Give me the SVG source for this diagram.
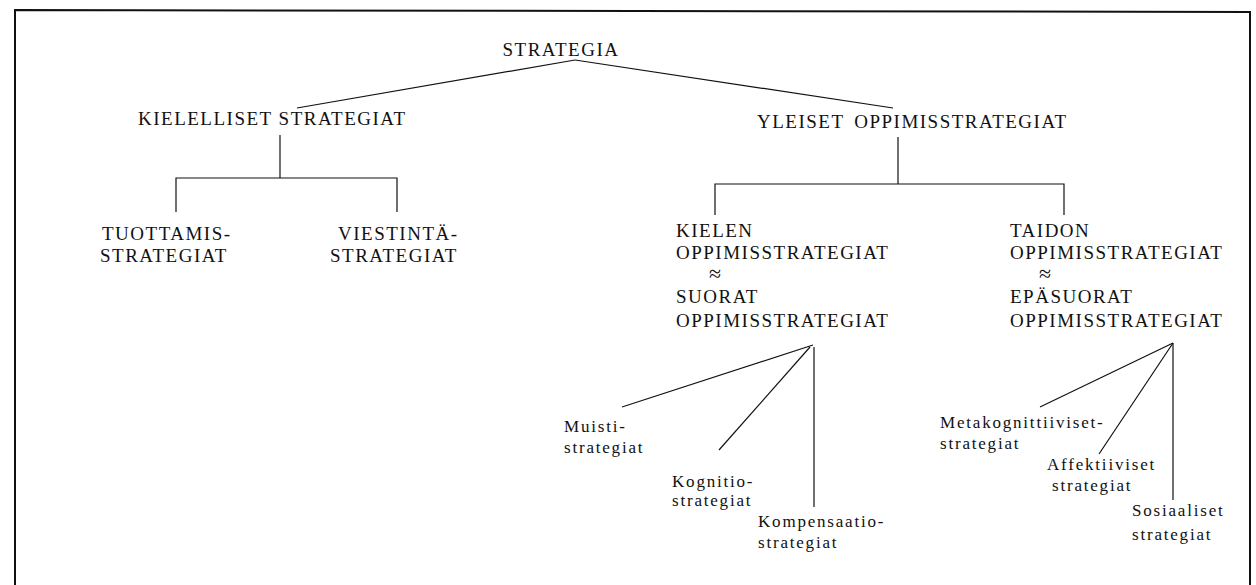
<svg xmlns="http://www.w3.org/2000/svg" width="1256" height="585" viewBox="0 0 1256 585">
<style>
text{font-family:"Liberation Serif","Times New Roman",serif;fill:#111}
.h{font-size:19px;letter-spacing:1.5px}
.s{font-size:17px;letter-spacing:1.8px}
.ap{font-size:22px}
.c line,.c polyline{stroke:#111;stroke-width:1.2;fill:none}
.frame{stroke:#111;stroke-width:2;fill:none}
</style>
<rect width="1256" height="585" fill="#fff"/>
<polyline class="frame" points="15,585 15,10 1250,12 1250,585"/>
<g id="connectors" class="c">
<line x1="297" y1="108" x2="575" y2="60"/>
<line x1="575" y1="60" x2="893" y2="108"/>
<line x1="280" y1="135" x2="280" y2="178"/>
<polyline points="176,212 176,178 397,178 397,212"/>
<line x1="898" y1="137" x2="898" y2="184"/>
<polyline points="715,215 715,184 1064,184 1064,215"/>
<line x1="813" y1="345" x2="622" y2="407"/>
<line x1="810" y1="347" x2="719" y2="450"/>
<line x1="814" y1="347" x2="814" y2="507"/>
<line x1="1173" y1="343" x2="1040" y2="407"/>
<line x1="1173" y1="343" x2="1099" y2="454"/>
<line x1="1173" y1="343" x2="1173" y2="500"/>
</g>
<g id="n-strategia"><text class="h" x="561" y="56" text-anchor="middle">STRATEGIA</text></g>
<g id="n-kielelliset"><text class="h" x="138" y="125">KIELELLISET STRATEGIAT</text></g>
<g id="n-yleiset"><text class="h" x="757" y="128">YLEISET<tspan dx="10">OPPIMISSTRATEGIAT</tspan></text></g>
<g id="n-tuottamis"><text class="h" x="102" y="240">TUOTTAMIS-</text><text class="h" x="100" y="262">STRATEGIAT</text></g>
<g id="n-viestinta"><text class="h" x="338" y="240">VIESTINTÄ-</text><text class="h" x="330" y="262">STRATEGIAT</text></g>
<g id="n-kielen">
<text class="h" x="676" y="237">KIELEN</text>
<text class="h" x="676" y="259">OPPIMISSTRATEGIAT</text>
<text class="ap" x="715" y="281" text-anchor="middle">≈</text>
<text class="h" x="676" y="303">SUORAT</text>
<text class="h" x="676" y="327">OPPIMISSTRATEGIAT</text>
</g>
<g id="n-taidon">
<text class="h" x="1010" y="237">TAIDON</text>
<text class="h" x="1010" y="259">OPPIMISSTRATEGIAT</text>
<text class="ap" x="1045" y="281" text-anchor="middle">≈</text>
<text class="h" x="1010" y="303">EPÄSUORAT</text>
<text class="h" x="1010" y="327">OPPIMISSTRATEGIAT</text>
</g>
<g id="n-muisti"><text class="s" x="564" y="432">Muisti-</text><text class="s" x="564" y="453">strategiat</text></g>
<g id="n-kognitio"><text class="s" x="672" y="487">Kognitio-</text><text class="s" x="672" y="506">strategiat</text></g>
<g id="n-kompensaatio"><text class="s" x="758" y="527">Kompensaatio-</text><text class="s" x="758" y="548">strategiat</text></g>
<g id="n-metakognitiiviset"><text class="s" x="940" y="428">Metakognittiiviset-</text><text class="s" x="940" y="449">strategiat</text></g>
<g id="n-affektiiviset"><text class="s" x="1047" y="470">Affektiiviset</text><text class="s" x="1052" y="491">strategiat</text></g>
<g id="n-sosiaaliset"><text class="s" x="1132" y="516">Sosiaaliset</text><text class="s" x="1132" y="540">strategiat</text></g>
</svg>
